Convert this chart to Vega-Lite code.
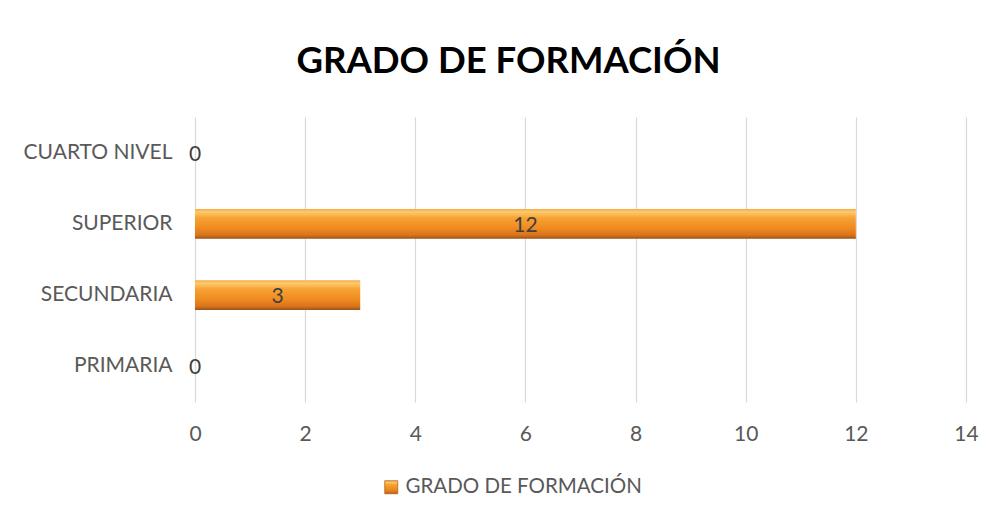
{
  "$schema": "https://vega.github.io/schema/vega-lite/v6.json",
  "autosize": "none",
  "width": 771,
  "height": 285,
  "padding": {"left": 195, "top": 117, "right": 29, "bottom": 115},
  "background": "white",
  "title": {
    "text": "GRADO DE FORMACIÓN",
    "font": "Lato",
    "fontSize": 36.5,
    "fontWeight": "bold",
    "color": "#000000",
    "anchor": "middle",
    "baseline": "alphabetic",
    "offset": 8,
    "dx": -72
  },
  "data": {
    "values": [
      {"nivel": "CUARTO NIVEL", "n": 0, "serie": "GRADO DE FORMACIÓN"},
      {"nivel": "SUPERIOR", "n": 12, "serie": "GRADO DE FORMACIÓN"},
      {"nivel": "SECUNDARIA", "n": 3, "serie": "GRADO DE FORMACIÓN"},
      {"nivel": "PRIMARIA", "n": 0, "serie": "GRADO DE FORMACIÓN"}
    ]
  },
  "encoding": {
    "y": {
      "field": "nivel",
      "type": "nominal",
      "sort": null,
      "title": null,
      "scale": {"paddingInner": 0.58, "paddingOuter": 0.29},
      "axis": {"domain": false, "ticks": false, "labelPadding": 23, "labelFont": "Lato", "labelFontSize": 21, "labelColor": "#595959"}
    }
  },
  "layer": [
    {
      "mark": {"type": "bar", "strokeWidth": 0, "fill": {"gradient": "linear", "x1": 0, "y1": 0, "x2": 0, "y2": 1, "stops": [
            {"offset": 0, "color": "#F5A946"},
            {"offset": 0.1, "color": "#FCCB6C"},
            {"offset": 0.3, "color": "#F7A234"},
            {"offset": 0.65, "color": "#EF8A20"},
            {"offset": 0.88, "color": "#D8731A"},
            {"offset": 1, "color": "#9A501B"}
          ]}},
      "encoding": {
        "x": {
          "field": "n",
          "type": "quantitative",
          "title": null,
          "scale": {"domain": [0, 14], "nice": false},
          "axis": {"values": [0, 2, 4, 6, 8, 10, 12, 14], "format": "d", "labelFlush": false, "domain": false, "ticks": false, "grid": true, "gridColor": "#D9D9D9", "gridWidth": 1.2, "labelPadding": 21, "labelFont": "Lato", "labelFontSize": 21, "labelColor": "#595959"}
        },
        "stroke": {
          "field": "serie",
          "type": "nominal",
          "title": null,
          "scale": {"range": ["#B8631E"]},
          "legend": {
            "orient": "none",
            "legendX": 186,
            "legendY": 360,
            "symbolType": "square",
            "symbolSize": 169,
            "symbolStrokeWidth": 0.8,
            "symbolFillColor": "#EE8D22",
            "symbolOpacity": 1,
            "labelFont": "Lato",
            "labelFontSize": 20.5,
            "labelColor": "#595959",
            "labelOffset": 4,
            "labelLimit": 0
          }
        }
      }
    },
    {
      "transform": [{"calculate": "datum.n / 2", "as": "centro"}],
      "mark": {"type": "text", "font": "Lato", "fontSize": 21, "color": "#404040", "align": "center", "baseline": "middle", "dy": 2},
      "encoding": {
        "x": {"field": "centro", "type": "quantitative"},
        "text": {"field": "n", "type": "quantitative"}
      }
    }
  ],
  "config": {"view": {"stroke": null}}
}
